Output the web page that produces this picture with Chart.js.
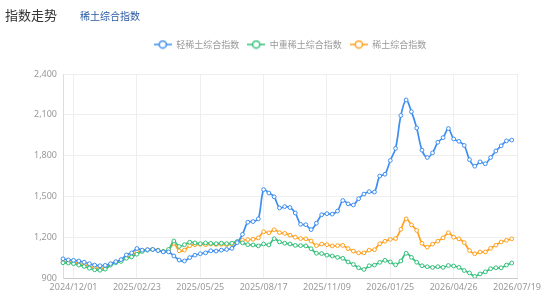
<!DOCTYPE html>
<html>
<head>
<meta charset="utf-8">
<script src="https://cdn.jsdelivr.net/npm/chart.js@4.4.1/dist/chart.umd.min.js"></script>
<style>
  body { margin: 0; background: #fff; font-family: "Noto Sans", "Noto Sans CJK SC", sans-serif; }
  #wrap { position: relative; width: 554px; height: 307px; overflow: hidden; }
  #box { position: absolute; left: 0; top: 0; width: 554px; height: 307px; }
  .title { position: absolute; left: 5px; top: 5px; font-size: 13px; color: #333; font-family: "Noto Sans CJK SC", sans-serif; }
  .sub { position: absolute; left: 80px; top: 8px; font-size: 10px; color: #2b5aa3; font-family: "Noto Sans CJK SC", sans-serif; }
</style>
</head>
<body>
<div id="wrap">
  <div id="box"><canvas id="chart"></canvas></div>
  <div class="title">指数走势</div>
  <div class="sub">稀土综合指数</div>
</div>
<script>
// weekly dates, one every category; the shown labels fall every 12th
const dates = [
  "2024/11/17", "2024/11/24", "2024/12/01", "2024/12/08", "2024/12/15", "2024/12/22", "2024/12/29",
  "2025/01/05", "2025/01/12", "2025/01/19", "2025/01/26", "2025/02/02", "2025/02/09", "2025/02/16",
  "2025/02/23", "2025/03/02", "2025/03/09", "2025/03/16", "2025/03/23", "2025/03/30", "2025/04/06",
  "2025/04/13", "2025/04/20", "2025/04/27", "2025/05/04", "2025/05/11", "2025/05/25", "2025/06/01",
  "2025/06/08", "2025/06/15", "2025/06/22", "2025/06/29", "2025/07/06", "2025/07/13", "2025/07/20",
  "2025/07/27", "2025/08/03", "2025/08/10", "2025/08/17", "2025/08/24", "2025/08/31", "2025/09/07",
  "2025/09/14", "2025/09/21", "2025/09/28", "2025/10/05", "2025/10/12", "2025/10/19", "2025/10/26",
  "2025/11/02", "2025/11/09", "2025/11/16", "2025/11/23", "2025/11/30", "2025/12/07", "2025/12/14",
  "2025/12/21", "2025/12/28", "2025/12/31", "2026/01/04", "2026/01/11", "2026/01/18", "2026/01/25",
  "2026/02/01", "2026/02/08", "2026/02/22", "2026/03/01", "2026/03/08", "2026/03/15", "2026/03/22",
  "2026/03/29", "2026/04/05", "2026/04/12", "2026/04/19", "2026/04/26", "2026/05/03", "2026/05/10",
  "2026/05/17", "2026/05/24", "2026/05/31", "2026/06/07", "2026/06/14", "2026/06/21", "2026/06/28",
  "2026/07/05", "2026/07/12", "2026/07/19"
];
const shownLabels = ["2024/12/01", "2025/02/23", "2025/05/25", "2025/08/17", "2025/11/09", "2026/01/25", "2026/04/26", "2026/07/19"];

const lightIndex = [
  1041, 1033, 1030, 1025, 1016, 1005, 995, 990, 993, 1005, 1020, 1035, 1070, 1085, 1117, 1105, 1108, 1110,
  1102, 1092, 1092, 1062, 1032, 1025, 1050, 1068, 1078, 1085, 1100, 1098, 1105, 1110, 1118, 1160, 1221,
  1310, 1315, 1335, 1550, 1525, 1497, 1415, 1425, 1418, 1378, 1295, 1292, 1256, 1303, 1365, 1373, 1370,
  1392, 1470, 1445, 1437, 1483, 1517, 1535, 1532, 1650, 1663, 1764, 1853, 2095, 2209, 2123, 2003, 1840,
  1786, 1820, 1898, 1932, 1999, 1922, 1905, 1875, 1770, 1722, 1754, 1740, 1786, 1834, 1872, 1908, 1914, null
];
const heavyIndex = [
  1012, 1010, 1005, 995, 985, 972, 960, 957, 965, 995, 1012, 1022, 1045, 1055, 1075, 1095, 1105, 1110,
  1102, 1095, 1110, 1172, 1132, 1145, 1163, 1158, 1152, 1158, 1155, 1152, 1156, 1152, 1156, 1168, 1158,
  1145, 1143, 1136, 1150, 1143, 1189, 1165, 1156, 1150, 1140, 1138, 1136, 1115, 1082, 1080, 1068, 1062,
  1052, 1045, 1018, 1000, 975, 963, 990, 995, 1015, 1030, 1018, 997, 1025, 1082, 1052, 1016, 990,
  983, 978, 983, 978, 992, 988, 978, 955, 937, 912, 930, 945, 968, 975, 975, 995, 1010, null
];
const totalIndex = [
  1020, 1018, 1015, 1005, 998, 985, 975, 970, 975, 1000, 1018, 1030, 1050, 1062, 1090, 1100, 1108, 1110,
  1105, 1095, 1100, 1155, 1100, 1105, 1138, 1145, 1148, 1145, 1150, 1147, 1148, 1145, 1150, 1165, 1178,
  1182, 1185, 1195, 1240, 1232, 1255, 1234, 1228, 1215, 1200, 1190, 1188, 1172, 1138, 1150, 1145, 1136,
  1138, 1140, 1116, 1098, 1085, 1085, 1105, 1108, 1152, 1170, 1184, 1190, 1258, 1335, 1290, 1250, 1155,
  1127, 1149, 1171, 1195, 1233, 1200, 1188, 1160, 1102, 1078, 1091, 1092, 1119, 1141, 1165, 1177, 1188, null
];
const seriesNames = ["轻稀土综合指数", "中重稀土综合指数", "稀土综合指数"];
const seriesColors = ["#3d8ef0", "#33c07a", "#ffa01c"];
const yTicks = [900, 1200, 1500, 1800, 2100, 2400];

// legend icon: short line with a hollow circle
function legendIcon(color) {
  const c = document.createElement("canvas");
  c.width = 18; c.height = 10;
  const g = c.getContext("2d");
  g.strokeStyle = color;
  g.lineWidth = 1.5;
  g.beginPath(); g.moveTo(0, 5); g.lineTo(18, 5); g.stroke();
  g.beginPath(); g.arc(9, 5, 3.6, 0, Math.PI * 2);
  g.fillStyle = "#fff"; g.fill(); g.stroke();
  return c;
}

function makeSet(i, data) {
  return {
    label: seriesNames[i],
    data: data,
    borderColor: seriesColors[i],
    backgroundColor: "#fff",
    pointBackgroundColor: "#fff",
    pointBorderColor: seriesColors[i],
    pointRadius: 1.9,
    pointBorderWidth: 1,
    borderWidth: 1.7,
    tension: 0.35,
    fill: false
  };
}

// center the legend on the plot area instead of the whole canvas
const centerLegend = {
  id: "centerLegend",
  afterLayout(chart) {
    const lg = chart.legend, ca = chart.chartArea;
    const shift = (ca.left + ca.right) / 2 - (lg.left + lg.right) / 2;
    lg.left += shift; lg.right += shift;
  }
};

const axisFont = { family: "'Noto Sans', 'Noto Sans CJK SC', sans-serif", size: 9 };

new Chart(document.getElementById("chart"), {
  type: "line",
  data: {
    labels: dates,
    datasets: [makeSet(0, lightIndex), makeSet(1, heavyIndex), makeSet(2, totalIndex)]
  },
  plugins: [centerLegend],
  options: {
    responsive: true,
    maintainAspectRatio: false,
    animation: false,
    layout: { padding: { top: 32, right: 37, left: 0, bottom: 0 } },
    plugins: {
      tooltip: { enabled: false },
      legend: {
        position: "top",
        weight: 1000,
        labels: {
          usePointStyle: true,
          pointStyleWidth: 18,
          boxHeight: 9,
          padding: 8,
          color: "#999",
          font: { family: "'Noto Sans CJK SC', sans-serif", size: 9 },
          generateLabels(chart) {
            return chart.data.datasets.map((ds, i) => ({
              text: ds.label,
              pointStyle: legendIcon(seriesColors[i]),
              fillStyle: "#fff",
              strokeStyle: seriesColors[i],
              fontColor: "#999",
              lineWidth: 0,
              datasetIndex: i
            }));
          }
        }
      },
      title: {
        display: true,
        text: "",
        weight: 500,
        font: { size: 1, lineHeight: 1 },
        padding: { top: 0, bottom: 14 }
      }
    },
    scales: {
      x: {
        afterFit(scale) { scale.height = 29; },
        grid: { color: "#eeeeee", drawTicks: false },
        border: { color: "#cccccc" },
        ticks: {
          autoSkip: false,
          maxRotation: 0,
          minRotation: 0,
          padding: 4,
          color: "#999",
          font: axisFont,
          callback(val, idx) {
            const d = dates[idx];
            return shownLabels.includes(d) ? d : null;
          }
        }
      },
      y: {
        min: 900,
        max: 2400,
        afterFit(scale) { scale.width = 63; },
        afterBuildTicks(scale) { scale.ticks = yTicks.map(v => ({ value: v })); },
        grid: { color: "#eeeeee", drawTicks: false },
        border: { color: "#dddddd" },
        ticks: {
          padding: 6,
          color: "#999",
          font: axisFont,
          callback: v => v.toLocaleString("en-US")
        }
      }
    }
  }
});
</script>
</body>
</html>
